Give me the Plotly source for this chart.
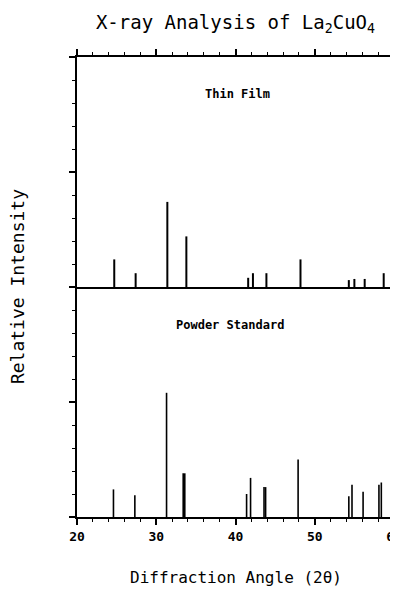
import plotly.graph_objects as go
from plotly.subplots import make_subplots

# Thin film peaks (2-theta, relative intensity)
film_angle = [24.7, 27.4, 31.4, 33.8, 41.6, 42.2, 43.9, 48.2, 54.3, 55.0, 56.3, 58.7]
film_int = [12, 6, 37, 22, 4, 6, 6, 12, 3, 3.5, 3.5, 6]

# Powder standard peaks
powder_angle = [24.6, 27.3, 31.3, 33.4, 33.6, 41.4, 41.9, 43.6, 43.8, 47.9, 54.3, 54.7, 56.1, 58.1, 58.4]
powder_int = [12, 9.5, 54, 19, 19, 10, 17, 13, 13, 25, 9, 14, 11, 14, 15]

x_ticks = [20, 30, 40, 50, 60]
x_tick_labels = ["20", "30", "40", "50", "60"]

FONT = "DejaVu Sans Mono"


def stems(xs, ys):
    px, py = [], []
    for a, h in zip(xs, ys):
        px += [a, a, None]
        py += [0, h, None]
    return px, py


fig = make_subplots(rows=2, cols=1, shared_xaxes=False, vertical_spacing=0)

fx, fy = stems(film_angle, film_int)
fig.add_trace(go.Scatter(x=fx, y=fy, mode="lines", line=dict(color="black", width=2),
                         showlegend=False, hoverinfo="skip"), row=1, col=1)
px_, py_ = stems(powder_angle, powder_int)
fig.add_trace(go.Scatter(x=px_, y=py_, mode="lines", line=dict(color="black", width=1.6),
                         showlegend=False, hoverinfo="skip"), row=2, col=1)

common_x = dict(range=[20, 60], showgrid=False, zeroline=False, showline=True, automargin=False,
                linecolor="black", linewidth=2, tickvals=x_ticks, ticktext=x_tick_labels,
                ticks="outside", ticklen=6, tickwidth=1.5, tickcolor="black",
                minor=dict(dtick=2, tick0=20, ticks="outside", ticklen=3, tickwidth=1.2, tickcolor="black"))

fig.update_xaxes(**common_x, side="top", showticklabels=False, mirror=True, row=1, col=1)
fig.update_xaxes(**common_x, side="bottom", showticklabels=True, mirror=False,
                 ticklabeloverflow="allow",
                 tickfont=dict(family=FONT, size=13, color="black", weight="bold"),
                 row=2, col=1)

common_y = dict(range=[0, 100], showgrid=False, zeroline=False, showline=True, automargin=False,
                linecolor="black", linewidth=2, tickvals=[0, 50, 100], showticklabels=False,
                ticks="outside", ticklen=6, tickwidth=1.5, tickcolor="black", mirror="ticks",
                minor=dict(dtick=10, tick0=0, ticks="outside", ticklen=3, tickwidth=1.2, tickcolor="black"))
fig.update_yaxes(**common_y, row=1, col=1)
fig.update_yaxes(**common_y, row=2, col=1)

fig.add_annotation(text="<b>Thin Film</b>", xref="x", yref="y", x=40.2, y=84, showarrow=False,
                   font=dict(family=FONT, size=12, color="black"))
fig.add_annotation(text="<b>Powder Standard</b>", xref="x2", yref="y2", x=39.3, y=83.5, showarrow=False,
                   font=dict(family=FONT, size=12, color="black"))
fig.add_annotation(text="Relative Intensity", xref="paper", yref="paper", x=-0.189, y=0.5,
                   textangle=-90, showarrow=False, xanchor="center", yanchor="middle",
                   font=dict(family=FONT, size=18, color="black"))
fig.add_annotation(text="Diffraction Angle (2θ)", xref="paper", yref="paper", x=0.5, y=-0.1326,
                   showarrow=False, xanchor="center", yanchor="middle",
                   font=dict(family=FONT, size=16, color="black"))

fig.update_layout(
    width=390, height=581,
    margin=dict(l=69, r=4, t=49, b=72, autoexpand=False),
    paper_bgcolor="white", plot_bgcolor="white",
    title=dict(text="X-ray Analysis of La<sub>2</sub>CuO<sub>4</sub>", xref="paper", x=0.5, xanchor="center",
               yref="container", y=0.976, yanchor="middle", font=dict(family=FONT, size=19, color="black")),
)

fig.write_html("out.html")
